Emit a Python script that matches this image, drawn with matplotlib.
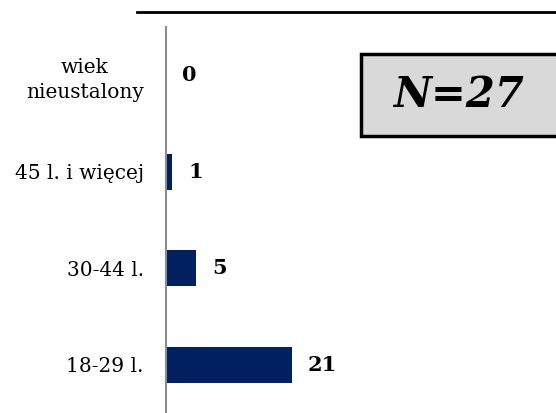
import matplotlib.pyplot as plt
from matplotlib.lines import Line2D
from matplotlib.patches import Rectangle

categories = ['18-29 l.', '30-44 l.', '45 l. i więcej', 'wiek\nnieustalony']
counts = [21, 5, 1, 0]
n_total = 27

plt.rcParams['font.family'] = ['DejaVu Serif']

W, H = 556, 413
fig = plt.figure(figsize=(W / 100, H / 100), dpi=100)
# axes: x from 166px to 556px, y from 27px to 413px (top)
ax = fig.add_axes([166 / W, 0, 390 / W, 386 / H])

ypos = range(len(categories))
ax.barh(ypos, counts, height=0.37, color='#002060')
ax.set_xlim(0, 65)
ax.set_ylim(-0.5, 3.5)

for y, v in zip(ypos, counts):
    ax.annotate(str(v), (v, y), xytext=(11.5, 0), textcoords='offset points',
                va='center', ha='left', fontsize=15, fontweight='bold')

ax.set_yticks(list(ypos))
ax.set_yticklabels(categories, fontsize=14.5, multialignment='center',
                   linespacing=1.35)
ax.tick_params(axis='y', length=0, pad=16)
ax.set_xticks([])
for s in ['top', 'right', 'bottom']:
    ax.spines[s].set_visible(False)
ax.spines['left'].set_color('#8c8c8c')
ax.spines['left'].set_linewidth(1.5)

# top rule
fig.add_artist(Line2D([137 / W, 1], [1 - 12 / H, 1 - 12 / H],
                      color='black', linewidth=2))

# N box, runs off the right edge
fig.add_artist(Rectangle((361 / W, 1 - 136 / H), 220 / W, 82 / H,
                         transform=fig.transFigure, facecolor='#d9d9d9',
                         edgecolor='black', linewidth=2.5))
fig.text(459 / W, 1 - 95 / H, 'N=%d' % n_total, fontsize=30,
         fontweight='bold', fontstyle='italic', ha='center', va='center')

fig.savefig('out.png', dpi=100)
